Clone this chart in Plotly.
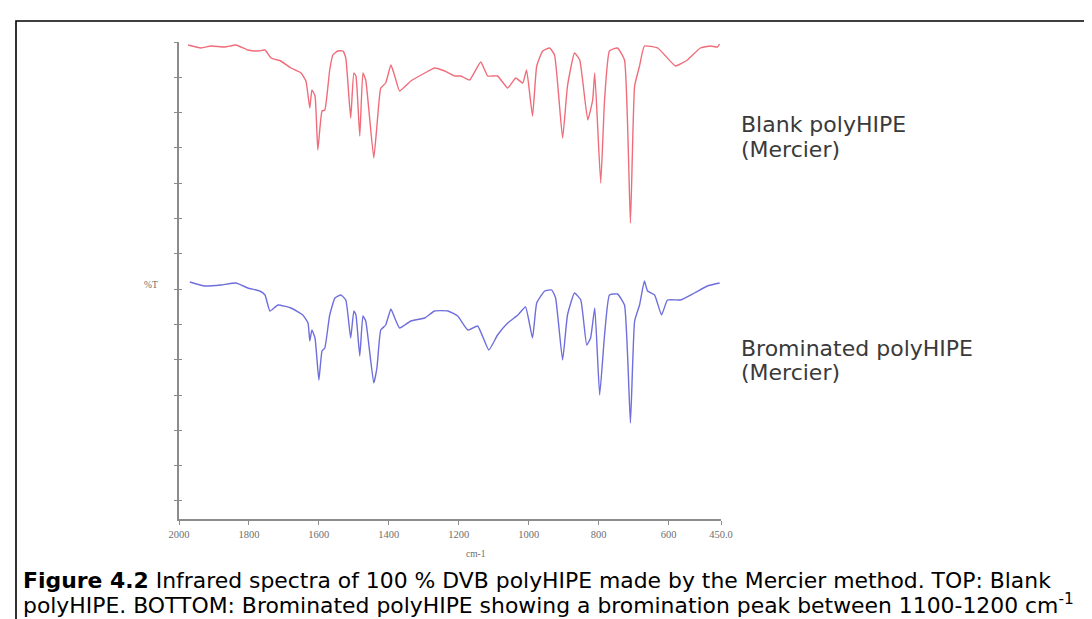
import plotly.graph_objects as go
import numpy as np

# ---------------- data ----------------
wavenumber_blank = [1974, 1937, 1909, 1869, 1837, 1803, 1774, 1754, 1737, 1709, 1680, 1651, 1637,
                    1626, 1620, 1611, 1603, 1591, 1583, 1569, 1560, 1546, 1531, 1523, 1509, 1500,
                    1494, 1483, 1474, 1466, 1443, 1434, 1423, 1409, 1394, 1383, 1369, 1337, 1297,
                    1269, 1240, 1211, 1194, 1169, 1137, 1117, 1089, 1060, 1037, 1017, 1006, 989,
                    977, 960, 940, 926, 903, 889, 869, 854, 831, 817, 811, 794, 783, 769, 746, 726,
                    709, 697, 683, 669, 631, 611, 580, 546, 509, 480, 460, 454]
transmittance_blank = [94.8, 94.2, 94.6, 94.4, 94.8, 93.8, 93.6, 93.8, 92.2, 91.6, 90.2, 89.2, 87.6,
                       82.2, 85.8, 84.6, 73.8, 81.6, 81.8, 89.8, 92.8, 93.6, 93.6, 92.2, 80.2, 89.2,
                       88.6, 76.6, 89.2, 87.8, 72.2, 78.6, 86.2, 87.2, 90.8, 88.6, 85.6, 87.6, 89.2,
                       90.2, 89.6, 88.6, 88.6, 87.8, 91.4, 88.6, 88.6, 86.2, 88.2, 87.2, 89.8, 80.6,
                       90.6, 93.6, 94.2, 92.8, 76.2, 86.6, 93.2, 91.8, 79.8, 83.8, 89.2, 67.2, 83.8,
                       93.6, 94.2, 91.8, 59.2, 86.6, 90.6, 94.6, 94.2, 92.8, 90.6, 91.8, 94.2, 94.6,
                       94.4, 95.0]

wavenumber_brominated = [1969, 1926, 1880, 1837, 1803, 1769, 1754, 1740, 1717, 1680, 1646, 1631,
                         1626, 1620, 1611, 1600, 1591, 1583, 1569, 1554, 1537, 1523, 1509, 1500,
                         1494, 1483, 1474, 1466, 1443, 1434, 1423, 1409, 1394, 1383, 1369, 1337,
                         1297, 1269, 1231, 1203, 1174, 1146, 1114, 1089, 1060, 1031, 1009, 989,
                         977, 954, 934, 923, 903, 889, 869, 851, 834, 823, 811, 797, 783, 769, 746,
                         726, 709, 697, 683, 669, 660, 640, 620, 603, 566, 526, 489, 454]
transmittance_brominated = [47.4, 46.6, 46.8, 47.2, 46.2, 45.6, 44.8, 41.6, 42.8, 42.2, 40.8, 39.2,
                            35.6, 37.8, 36.2, 27.8, 33.6, 34.2, 40.8, 44.2, 44.8, 43.8, 36.2, 41.6,
                            40.8, 32.6, 40.6, 39.6, 27.2, 30.2, 37.8, 38.8, 42.0, 40.2, 38.2, 39.6,
                            40.2, 41.6, 41.6, 40.6, 37.8, 38.6, 33.8, 36.8, 39.2, 40.8, 42.4, 36.2,
                            43.2, 45.6, 45.8, 44.2, 31.8, 40.8, 45.2, 43.8, 34.8, 36.2, 42.2, 24.8,
                            36.8, 44.8, 45.0, 42.8, 19.2, 39.6, 42.8, 47.6, 45.6, 44.8, 40.8, 43.8,
                            43.8, 45.2, 46.6, 47.2]

x_tick_values = [2000, 1800, 1600, 1400, 1200, 1000, 800, 600, 450]
x_tick_labels = ["2000", "1800", "1600", "1400", "1200", "1000", "800", "600", "450.0"]

series_labels = [["Blank polyHIPE", "(Mercier)"], ["Brominated polyHIPE", "(Mercier)"]]
caption_lines = [
    "<b>Figure 4.2</b> Infrared spectra of 100 % DVB polyHIPE made by the Mercier method. TOP: Blank",
    "polyHIPE. BOTTOM: Brominated polyHIPE showing a bromination peak between 1100-1200 cm<sup>-1</sup>",
]

# ---------------- layout geometry ----------------
W, H = 1092, 619
L, R, T, B = 171, 713, 34, 511
Y_TOP = 95.4


def px(x):
    return (x - L) / (R - L)


def py(y):
    return (B - y) / (B - T)


y_tick_positions = list(Y_TOP - 7.06 * np.arange(14))

AXIS = "#8c8c8c"
TICKFONT = dict(family="Liberation Serif", size=10.5, color="#6e6e6e")
SMALLFONT = dict(family="Liberation Serif", size=9.5, color="#6e6e6e")
LABELFONT = dict(family="DejaVu Sans", size=22, color="#3a3a3a")

fig = go.Figure()
fig.add_trace(go.Scatter(x=wavenumber_blank, y=transmittance_blank, mode="lines",
                         line=dict(color="#ef6d7b", width=1.4, shape="spline", smoothing=0.4),
                         showlegend=False))
fig.add_trace(go.Scatter(x=wavenumber_brominated, y=transmittance_brominated, mode="lines",
                         line=dict(color="#6e6edc", width=1.4, shape="spline", smoothing=0.4),
                         showlegend=False))

fig.update_layout(
    width=W, height=H, autosize=False,
    margin=dict(l=L, r=W - R, t=T, b=H - B, pad=0),
    paper_bgcolor="white", plot_bgcolor="white",
    xaxis=dict(range=[2000, 450], showgrid=False, zeroline=False, showline=True,
               linecolor=AXIS, linewidth=1.5, ticks="outside", ticklen=4, tickcolor=AXIS,
               tickwidth=1, tickmode="array", tickvals=x_tick_values, ticktext=x_tick_labels,
               tickfont=TICKFONT, ticklabelstandoff=1),
    yaxis=dict(range=[0, Y_TOP], showgrid=False, zeroline=False, showline=True,
               linecolor=AXIS, linewidth=1.5, ticks="outside", ticklen=3, tickcolor=AXIS,
               tickmode="array", tickvals=y_tick_positions, showticklabels=False),
    yaxis2=dict(range=[0, Y_TOP], overlaying="y", side="left", showgrid=False, zeroline=False,
                showline=False, ticks="inside", ticklen=3, tickcolor=AXIS,
                tickmode="array", tickvals=y_tick_positions, showticklabels=False),
)
# empty trace so that the overlaid tick axis is drawn
fig.add_trace(go.Scatter(x=[None], y=[None], yaxis="y2", showlegend=False, hoverinfo="skip"))

ann = []
ann.append(dict(text="%T", x=px(143), y=py(277), xref="paper", yref="paper",
                showarrow=False, font=SMALLFONT, xanchor="center", yanchor="middle"))
ann.append(dict(text="cm-1", x=px(468), y=py(546), xref="paper", yref="paper",
                showarrow=False, font=SMALLFONT, xanchor="center", yanchor="middle"))
label_rows = [(116, 141), (340, 364)]
for lines, rows in zip(series_labels, label_rows):
    for text, yy in zip(lines, rows):
        ann.append(dict(text=text, x=px(731), y=py(yy), xref="paper", yref="paper",
                        showarrow=False, font=LABELFONT, xanchor="left", yanchor="middle"))
for text, yy in zip(caption_lines, (572, 596)):
    ann.append(dict(text=text, x=px(13), y=py(yy), xref="paper", yref="paper",
                    showarrow=False, font=dict(family="DejaVu Sans", size=21.9, color="#000000"),
                    xanchor="left", yanchor="middle"))
fig.update_layout(annotations=ann)

fig.add_shape(type="rect", xref="paper", yref="paper",
              x0=px(8), x1=px(1086), y0=py(640), y1=py(13),
              line=dict(color="#000000", width=1.6), fillcolor="rgba(0,0,0,0)", layer="above")

fig.write_html("out.html")
